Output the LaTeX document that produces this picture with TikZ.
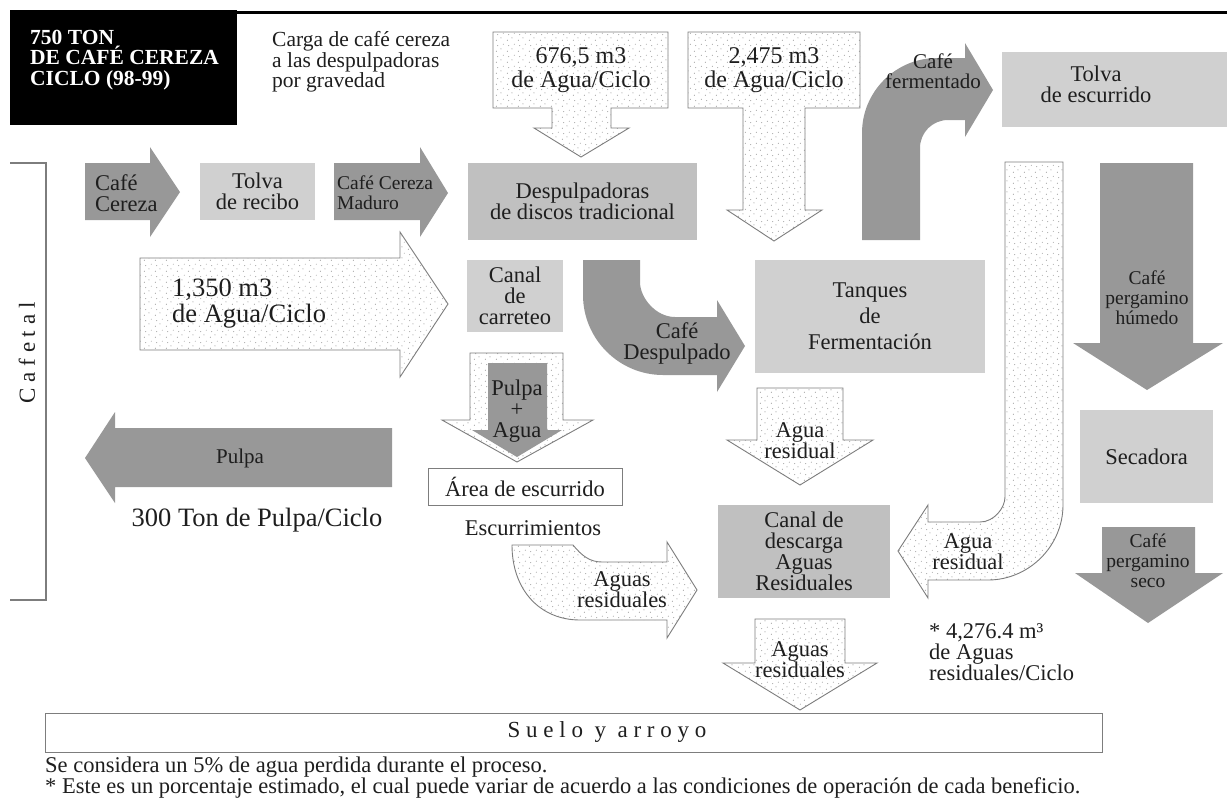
\documentclass[tikz,border=0pt]{standalone}
\usepackage{fontspec}
\setmainfont{Liberation Serif}
\usepackage{xcolor}
\usepackage{tikz}
\usetikzlibrary{patterns.meta}
\definecolor{arrowgray}{RGB}{152,152,152}
\definecolor{lightbox}{RGB}{208,208,208}
\definecolor{midbox}{RGB}{192,192,192}
\definecolor{linegray}{RGB}{125,125,125}
\definecolor{dotgray}{RGB}{125,125,125}
\definecolor{inkgray}{RGB}{30,30,30}
% sparse dots for the water arrows
\tikzdeclarepattern{
  name=stipple,
  type=uncolored,
  bottom left={(0pt,0pt)},
  top right={(11pt,11pt)},
  tile size={(11pt,11pt)},
  code={
    \pgfpathcircle{\pgfpoint{1.5pt}{2pt}}{0.55pt}
    \pgfpathcircle{\pgfpoint{6.5pt}{4.5pt}}{0.55pt}
    \pgfpathcircle{\pgfpoint{3pt}{8pt}}{0.5pt}
    \pgfpathcircle{\pgfpoint{9pt}{9.5pt}}{0.5pt}
    \pgfusepath{fill}
  }
}

\begin{document}
\begin{tikzpicture}[x=1pt, y=-1pt,
  every node/.style={font=\fontsize{22.5}{21}\selectfont, text=inkgray, inner sep=0pt, align=center},
  box/.style={fill=lightbox},
  darkbox/.style={fill=midbox},
  darkarr/.style={fill=arrowgray},
  waterarr/.style={draw=linegray, line width=0.9pt, preaction={fill=white}, pattern=stipple, pattern color=dotgray},
  small/.style={font=\fontsize{19.5}{20}\selectfont},
  big/.style={font=\fontsize{26.5}{26}\selectfont},
  watertxt/.style={font=\fontsize{24}{24}\selectfont}]
\useasboundingbox (0,0) rectangle (1227,801);

% header
\fill[black] (10,10) rectangle (237,125);
\draw[line width=3pt] (10,12.5) -- (1227,12.5);
\node[anchor=west, align=left, text=white, font=\fontsize{21.5}{20.5}\selectfont\bfseries] (head) at (30,60) {750 TON\\DE CAFÉ CEREZA\\CICLO (98-99)};
\node[anchor=west, align=left, font=\fontsize{21.5}{18.5}\selectfont] (carga) at (272,62) {Carga de café cereza\\a las despulpadoras\\por gravedad};

% cafetal
\draw[linegray, line width=1.2pt] (10,163) -- (46,163) -- (46,600) -- (10,600);
\node[rotate=90, font=\fontsize{23}{23}\selectfont] (cafetal) at (27,353) {C a f e t a l};

% first row
\fill[darkarr] (85,163) -- (150,163) -- (150,147) -- (180,192) -- (150,237) -- (150,220) -- (85,220) -- cycle;
\node[anchor=west, align=left] (cafecereza) at (95,193) {Café\\Cereza};
\node[box, minimum width=115pt, minimum height=57pt] (tolvarec) at (257.5,191.5) {Tolva\\de recibo};
\fill[darkarr] (334,163) -- (420,163) -- (420,147) -- (448,193) -- (420,237) -- (420,220) -- (334,220) -- cycle;
\node[small, anchor=west, align=left] (maduro) at (337,193) {Café Cereza\\Maduro};
\node[darkbox, minimum width=229pt, minimum height=77pt] (despulp) at (582.5,201.5) {Despulpadoras\\de discos tradicional};

% water inputs
\draw[waterarr] (493,32) -- (668,32) -- (668,108) -- (611,108) -- (611,128) -- (629,128) -- (581,157) -- (534,128) -- (552,128) -- (552,108) -- (493,108) -- cycle;
\node[watertxt] (agua676) at (581,70) {676,5 m3\\de Agua/Ciclo};
\draw[waterarr] (688,32) -- (860,32) -- (860,108) -- (805,108) -- (805,210) -- (822,210) -- (774,241) -- (727,210) -- (743,210) -- (743,108) -- (688,108) -- cycle;
\node[watertxt] (agua2475) at (774,70) {2,475 m3\\de Agua/Ciclo};
\draw[waterarr] (140,258) -- (400,258) -- (400,232) -- (448,304) -- (400,377) -- (400,350) -- (140,350) -- cycle;
\node[big, anchor=west, align=left] (agua1350) at (172,304) {1,350 m3\\de Agua/Ciclo};

% cafe fermentado / tolva de escurrido
\fill[darkarr] (862,240) -- (862,133) .. controls (862,91.6) and (895.6,58) .. (937,58) -- (965,58) -- (965,43) -- (993,90) -- (965,137) -- (965,120) -- (948,120) .. controls (932.5,120) and (920,132.5) .. (920,148) -- (920,240) -- cycle;
\node[font=\fontsize{21}{20}\selectfont] (fermentado) at (933,71) {Café\\fermentado};
\node[box, minimum width=225pt, minimum height=75pt] (tolvaesc) at (1114.5,89.5) {};
\node (tolvaesctxt) at (1096,84) {Tolva\\de escurrido};

% pulpa line
\node[box, minimum width=96pt, minimum height=72pt] (carreteo) at (515,296) {Canal\\de\\carreteo};
\draw[waterarr] (470,353) -- (563,353) -- (563,420) -- (593,420) -- (517,462) -- (442,420) -- (470,420) -- cycle;
\fill[darkarr] (488,363) -- (547,363) -- (547,430) -- (562,430) -- (517,457) -- (472,430) -- (488,430) -- cycle;
\node (pulpaagua) at (517,411) {Pulpa\\+\\Agua};
\node[draw=linegray, line width=1pt, fill=white, minimum width=194pt, minimum height=37pt] (area) at (525,486.5) {Área de escurrido};
\node (escurr) at (533,528) {Escurrimientos};
\fill[darkarr] (392,428) -- (115,428) -- (115,412) -- (85,458) -- (115,503) -- (115,487) -- (392,487) -- cycle;
\node[font=\fontsize{21}{21}\selectfont] (pulpa) at (240,458) {Pulpa};
\node[big] (tonpulpa) at (257,520) {300 Ton de Pulpa/Ciclo};
\draw[waterarr] (512,545) -- (573,545) .. controls (582,556) and (590,562) .. (602,562) -- (667,562) -- (667,542) -- (697,590) -- (667,638) -- (667,620) -- (580,620) .. controls (540,620) and (512,590) .. (512,545) -- cycle;
\node (aguasres1) at (622,590) {Aguas\\residuales};

% despulpado / fermentacion
\fill[darkarr] (583,260) -- (583,295) .. controls (583,339) and (619,375) .. (663,375) -- (717,375) -- (717,392) -- (745,346) -- (717,300) -- (717,317) -- (675,317) .. controls (656,317) and (640,298) .. (640,282) -- (640,260) -- cycle;
\node (despulpado) at (677,343) {Café\\Despulpado};
\node[box, minimum width=230pt, minimum height=113pt, font=\fontsize{22.5}{26}\selectfont] (tanques) at (870,316.5) {Tanques\\de\\Fermentación};
\draw[waterarr] (757,388) -- (843,388) -- (843,440) -- (873,440) -- (800,485) -- (727,440) -- (757,440) -- cycle;
\node (aguares1) at (800,441) {Agua\\residual};
\node[darkbox, minimum width=172pt, minimum height=93pt] (descarga) at (804,551.5) {Canal de\\descarga\\Aguas\\Residuales};
\draw[waterarr] (1005,162) -- (1063,162) -- (1063,505) .. controls (1063,546) and (1029,580) .. (988,580) -- (928,580) -- (928,598) -- (898,551) -- (928,505) -- (928,522) -- (980,522) .. controls (994,522) and (1005,508) .. (1005,497) -- cycle;
\node (aguares2) at (968,552) {Agua\\residual};
\draw[waterarr] (755,619) -- (845,619) -- (845,663) -- (877,663) -- (800,710) -- (723,663) -- (755,663) -- cycle;
\node (aguasres2) at (800,660) {Aguas\\residuales};
\node[anchor=west, align=left] (total) at (929,652) {* 4,276.4 m³\\de Aguas\\residuales/Ciclo};

% drying
\fill[darkarr] (1100,163) -- (1193,163) -- (1193,343) -- (1223,343) -- (1147,390) -- (1073,343) -- (1100,343) -- cycle;
\node[small] (humedo) at (1147,298) {Café\\pergamino\\húmedo};
\node[box, minimum width=133pt, minimum height=93pt] (secadora) at (1146.5,456.5) {Secadora};
\fill[darkarr] (1102,527) -- (1195,527) -- (1195,573) -- (1223,573) -- (1148,623) -- (1075,573) -- (1102,573) -- cycle;
\node[small] (seco) at (1148,561) {Café\\pergamino\\seco};

% suelo y arroyo, notes
\node[draw=linegray, line width=1pt, minimum width=1057pt, minimum height=39pt] (suelo) at (573.5,732.5) {};
\node[font=\fontsize{23}{23}\selectfont] (suelotxt) at (607,732) {S u e l o\ \ y\ \ a r r o y o};
\node[anchor=west, align=left] (nota) at (45,778) {Se considera un 5\% de agua perdida durante el proceso.\\* Este es un porcentaje estimado, el cual puede variar de acuerdo a las condiciones de operación de cada beneficio.};
\end{tikzpicture}
\end{document}
